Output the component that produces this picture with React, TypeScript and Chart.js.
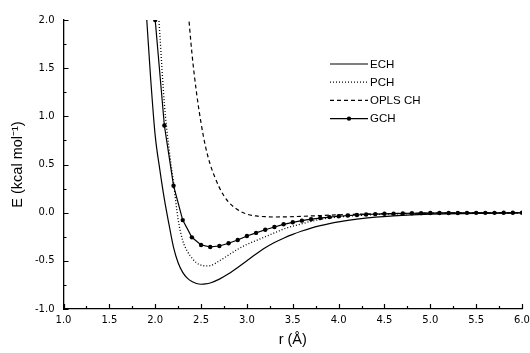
import React, { useEffect, useRef } from 'react';
import { Chart, registerables } from 'chart.js';

Chart.register(...registerables);

// ---------- data ----------
const echR = [1.9, 1.95, 2.0, 2.05, 2.1, 2.15, 2.2, 2.25, 2.3, 2.35, 2.4, 2.45, 2.5, 2.55, 2.6, 2.7, 2.8, 2.9, 3.0, 3.1, 3.2, 3.3, 3.4, 3.5, 3.6, 3.7, 3.8, 3.9, 4.0, 4.2, 4.4, 4.6, 4.8, 5.0, 5.5, 6.0];
const echE = [2.12, 1.4, 0.8, 0.45, 0.14, -0.12, -0.36, -0.52, -0.62, -0.68, -0.715, -0.735, -0.743, -0.74, -0.73, -0.69, -0.635, -0.57, -0.5, -0.43, -0.365, -0.31, -0.265, -0.225, -0.19, -0.16, -0.135, -0.113, -0.095, -0.067, -0.047, -0.033, -0.023, -0.016, -0.007, -0.003];

const pchR = [2.0, 2.05, 2.1, 2.15, 2.2, 2.25, 2.3, 2.35, 2.4, 2.45, 2.5, 2.55, 2.6, 2.7, 2.8, 2.9, 3.0, 3.1, 3.2, 3.3, 3.4, 3.5, 3.6, 3.7, 3.8, 3.9, 4.0, 4.2, 4.4, 4.6, 5.0, 5.5, 6.0];
const pchE = [2.58, 1.86, 1.13, 0.67, 0.31, -0.07, -0.29, -0.4, -0.47, -0.52, -0.545, -0.553, -0.55, -0.5, -0.44, -0.38, -0.33, -0.29, -0.25, -0.21, -0.17, -0.14, -0.115, -0.09, -0.07, -0.055, -0.045, -0.03, -0.02, -0.014, -0.007, -0.003, -0.001];

const oplsR = [2.35, 2.4, 2.45, 2.5, 2.55, 2.6, 2.65, 2.7, 2.75, 2.8, 2.9, 3.0, 3.1, 3.2, 3.3, 3.4, 3.6, 3.8, 4.0, 4.2, 4.5, 5.0, 5.5, 6.0];
const oplsE = [2.2, 1.66, 1.25, 0.93, 0.68, 0.5, 0.37, 0.26, 0.175, 0.11, 0.03, -0.015, -0.034, -0.042, -0.045, -0.044, -0.038, -0.03, -0.022, -0.016, -0.01, -0.005, -0.002, -0.001];

const gchR = [2.0, 2.1, 2.2, 2.3, 2.4, 2.5, 2.6, 2.7, 2.8, 2.9, 3.0, 3.1, 3.2, 3.3, 3.4, 3.5, 3.6, 3.7, 3.8, 3.9, 4.0, 4.1, 4.2, 4.3, 4.4, 4.5, 4.6, 4.7, 4.8, 4.9, 5.0, 5.1, 5.2, 5.3, 5.4, 5.5, 5.6, 5.7, 5.8, 5.9, 6.0];
const gchE = [2.0, 0.905, 0.28, -0.077, -0.256, -0.335, -0.356, -0.346, -0.318, -0.284, -0.242, -0.21, -0.177, -0.149, -0.121, -0.1, -0.083, -0.068, -0.056, -0.046, -0.037, -0.03, -0.024, -0.019, -0.015, -0.012, -0.01, -0.008, -0.006, -0.005, -0.004, -0.003, -0.003, -0.003, -0.002, -0.002, -0.002, -0.002, -0.001, -0.001, -0.001];

const seriesLabels = ['ECH', 'PCH', 'OPLS CH', 'GCH'];

const xTickValues = [1.0, 1.5, 2.0, 2.5, 3.0, 3.5, 4.0, 4.5, 5.0, 5.5, 6.0];
const xTickLabels = ['1.0', '1.5', '2.0', '2.5', '3.0', '3.5', '4.0', '4.5', '5.0', '5.5', '6.0'];
const yTickValues = [-1.0, -0.5, 0.0, 0.5, 1.0, 1.5, 2.0];
const yTickLabels = ['-1.0', '-0.5', '0.0', '0.5', '1.0', '1.5', '2.0'];

const xTitle = 'r (Å)';
const yTitle = 'E (kcal mol⁻¹)';

// ---------- helpers ----------
const FONT = '"Liberation Sans", Arial, Helvetica, sans-serif';
const TICK_FONT = '"DejaVu Sans", "Liberation Sans", sans-serif';

const toPoints = (xs: number[], ys: number[]) => xs.map((x, i) => ({ x, y: ys[i] }));

const labelFor = (values: number[], labels: string[]) => (v: number | string) => {
  const n = Number(v);
  const i = values.findIndex((t) => Math.abs(t - n) < 1e-6);
  return i >= 0 ? labels[i] : '';
};

const inwardTicks = {
  id: 'inwardTicks',
  afterDraw(chart: any) {
    const { ctx, chartArea, scales } = chart;
    const xs = scales.x;
    const ys = scales.y;
    ctx.save();
    ctx.strokeStyle = '#000';
    ctx.lineWidth = 1.2;
    ctx.beginPath();
    xs.ticks.forEach((t: any) => {
      const major = xTickValues.some((v) => Math.abs(v - t.value) < 1e-6);
      const len = major ? 5 : 3;
      const px = Math.round(xs.getPixelForValue(t.value)) + 0.5;
      ctx.moveTo(px, chartArea.bottom);
      ctx.lineTo(px, chartArea.bottom - len);
    });
    ys.ticks.forEach((t: any) => {
      const major = yTickValues.some((v) => Math.abs(v - t.value) < 1e-6);
      const len = major ? 5 : 3;
      const py = Math.round(ys.getPixelForValue(t.value)) + 0.5;
      ctx.moveTo(chartArea.left, py);
      ctx.lineTo(chartArea.left + len, py);
    });
    ctx.stroke();
    ctx.restore();
  },
};

const insideLegend = {
  id: 'insideLegend',
  afterDraw(chart: any) {
    const { ctx } = chart;
    const x0 = 330;
    const x1 = 368;
    const yStart = 64;
    const step = 18.2;
    ctx.save();
    chart.data.datasets.forEach((ds: any, i: number) => {
      const y = yStart + i * step;
      ctx.strokeStyle = '#000';
      ctx.lineWidth = ds.borderWidth;
      ctx.setLineDash(ds.borderDash || []);
      ctx.beginPath();
      ctx.moveTo(x0, y);
      ctx.lineTo(x1, y);
      ctx.stroke();
      ctx.setLineDash([]);
      if (ds.pointRadius > 0) {
        ctx.fillStyle = '#000';
        ctx.beginPath();
        ctx.arc((x0 + x1) / 2, y, ds.pointRadius, 0, Math.PI * 2);
        ctx.fill();
      }
      ctx.fillStyle = '#000';
      ctx.font = `11.5px ${FONT}`;
      ctx.textBaseline = 'middle';
      ctx.textAlign = 'left';
      ctx.fillText(ds.label, x1 + 2, y + 0.5);
    });
    ctx.restore();
  },
};

export default function App() {
  const canvasRef = useRef<HTMLCanvasElement | null>(null);

  useEffect(() => {
    const canvas = canvasRef.current;
    if (!canvas) return;
    const chart = new Chart(canvas, {
      type: 'line',
      data: {
        datasets: [
          {
            label: seriesLabels[0],
            data: toPoints(echR, echE),
            borderColor: '#000',
            borderWidth: 1.2,
            pointRadius: 0,
            cubicInterpolationMode: 'monotone',
            fill: false,
          },
          {
            label: seriesLabels[1],
            data: toPoints(pchR, pchE),
            borderColor: '#000',
            borderWidth: 1.3,
            borderDash: [1, 2],
            pointRadius: 0,
            cubicInterpolationMode: 'monotone',
            fill: false,
          },
          {
            label: seriesLabels[2],
            data: toPoints(oplsR, oplsE),
            borderColor: '#000',
            borderWidth: 1.2,
            borderDash: [4, 3],
            pointRadius: 0,
            cubicInterpolationMode: 'monotone',
            fill: false,
          },
          {
            label: seriesLabels[3],
            data: toPoints(gchR, gchE),
            borderColor: '#000',
            backgroundColor: '#000',
            borderWidth: 1.2,
            pointRadius: 2.2,
            pointBackgroundColor: '#000',
            pointBorderWidth: 0,
            tension: 0,
            fill: false,
          },
        ],
      } as any,
      options: {
        animation: false,
        responsive: false,
        events: [],
        layout: { padding: { left: 8, top: 20, right: 8, bottom: 0 } },
        plugins: {
          legend: { display: false },
          tooltip: { enabled: false },
        },
        scales: {
          x: {
            type: 'linear',
            min: 1,
            max: 6,
            afterFit: (s: any) => {
              s.height = 44;
              s.paddingRight = 0;
              s.paddingLeft = 0;
            },
            grid: { display: false, drawTicks: false, tickLength: 0 },
            border: { display: true, color: '#000', width: 1.3 },
            ticks: {
              stepSize: 0.25,
              autoSkip: false,
              maxRotation: 0,
              padding: 5,
              color: '#000',
              font: { family: TICK_FONT, size: 10 },
              callback: labelFor(xTickValues, xTickLabels),
            },
            title: {
              display: true,
              text: xTitle,
              color: '#000',
              font: { family: FONT, size: 14.5 },
              padding: { top: 0, bottom: 4 },
            },
          },
          y: {
            type: 'linear',
            min: -1,
            max: 2,
            afterFit: (s: any) => {
              s.width = 55.5;
            },
            grid: { display: false, drawTicks: false, tickLength: 0 },
            border: { display: true, color: '#000', width: 1.3 },
            ticks: {
              stepSize: 0.25,
              autoSkip: false,
              padding: 9,
              color: '#000',
              font: { family: TICK_FONT, size: 10 },
              callback: labelFor(yTickValues, yTickLabels),
            },
            title: {
              display: true,
              text: yTitle,
              color: '#000',
              font: { family: FONT, size: 14.5 },
              padding: { top: 1, bottom: 0 },
            },
          },
        },
      } as any,
      plugins: [inwardTicks, insideLegend],
    });
    return () => chart.destroy();
  }, []);

  return (
    <div style={{ position: 'fixed', left: 0, top: 0, width: 530, height: 353, background: '#fff' }}>
      <canvas ref={canvasRef} width={530} height={353} style={{ display: 'block' }} />
    </div>
  );
}
